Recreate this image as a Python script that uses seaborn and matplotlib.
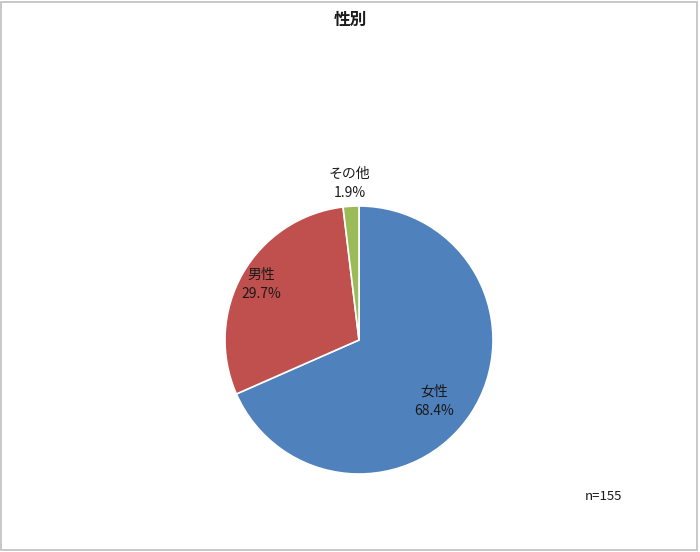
import matplotlib
matplotlib.use("Agg")
import matplotlib.pyplot as plt
import seaborn as sns
import numpy as np
from matplotlib.patches import Rectangle

# data
labels = ["女性", "男性", "その他"]
shares = [68.4, 29.7, 1.9]
colors = ["#4F81BD", "#C0504D", "#9BBB59"]
title = "性別"
note = "n=155"

sns.set_theme(style="white")
plt.rcParams["font.family"] = ["Noto Sans CJK JP", "DejaVu Sans"]

fig = plt.figure(figsize=(7, 5.52), dpi=100)
fig.patch.set_facecolor("white")

# pie axes placed where the reference has it
ax = fig.add_axes([225 / 700, 78 / 552, 268 / 700, 268 / 552])
wedges, _ = ax.pie(shares, colors=sns.color_palette(colors), startangle=90,
                   counterclock=False, radius=1,
                   wedgeprops=dict(edgecolor="white", linewidth=1.2))
ax.set_xlim(-1, 1)
ax.set_ylim(-1, 1)
ax.set_aspect("equal")
ax.axis("off")

# label radius / angle nudge per slice (Excel "best fit" placement)
label_r = [0.72, 0.84, 1.17]
label_da = [-6, 0, 0]
for w, lab, val, r, da in zip(wedges, labels, shares, label_r, label_da):
    ang = np.deg2rad((w.theta1 + w.theta2) / 2 + da)
    x, y = r * np.cos(ang), r * np.sin(ang)
    ax.text(x, y, f"{lab}\n{val:.1f}%", ha="center", va="center",
            fontsize=10, color="#1a1a1a", linespacing=1.5)

fig.text(0.5, 1 - 20 / 552, title, ha="center", va="center",
         fontsize=12, fontweight="bold", color="#1a1a1a")
fig.text(603 / 700, 1 - 497 / 552, note, ha="center", va="center",
         fontsize=9.5, color="#1a1a1a")

# thin gray frame round the chart
fig.patches.append(Rectangle((0.002, 0.004), 0.993, 0.992, transform=fig.transFigure,
                             fill=False, edgecolor="#BFBFBF", linewidth=1.2))

fig.savefig("out.png", dpi=100)
